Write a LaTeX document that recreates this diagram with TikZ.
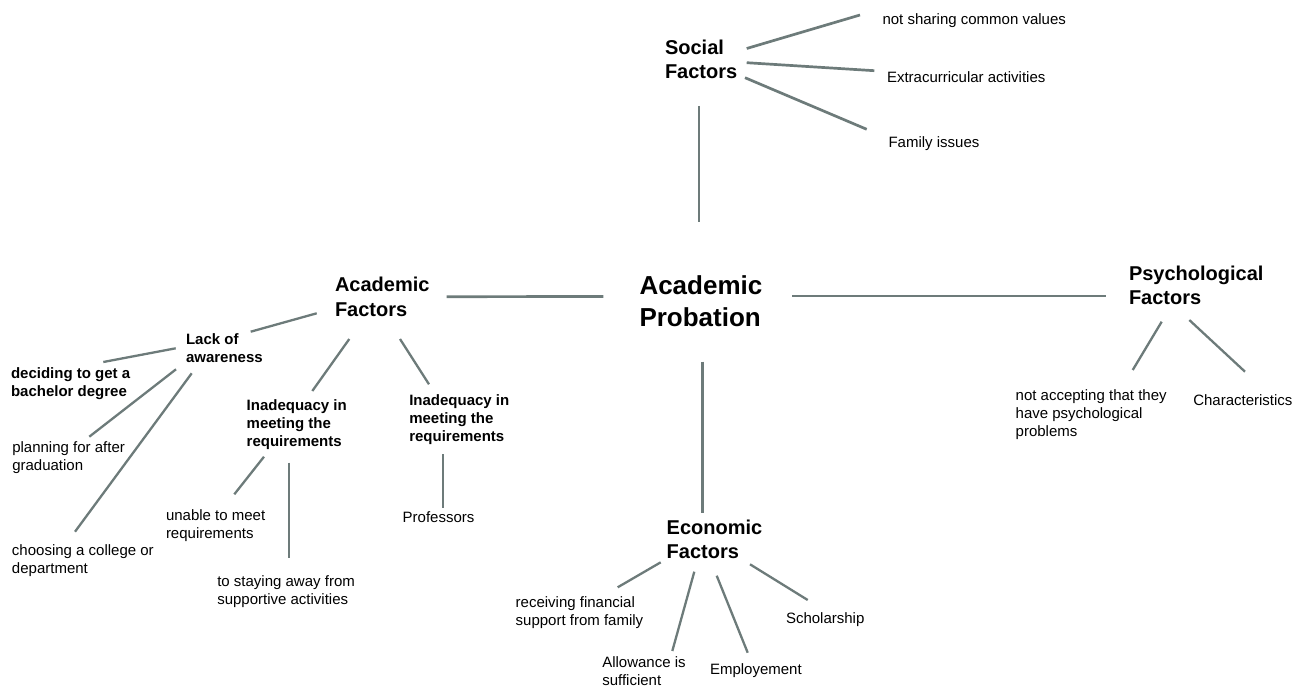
\documentclass[tikz,border=0pt]{standalone}
\usepackage{fontspec}
\setmainfont{Liberation Sans}
\definecolor{linkgray}{HTML}{6D7B7A}
% multi-line label whose reference point is the baseline of its first line
\newcommand\stack[1]{\begin{tabular}[t]{@{}l@{}}#1\end{tabular}}
\begin{document}
\begin{tikzpicture}[x=1pt,y=-1pt,
  every node/.style={inner sep=0pt, outer sep=0pt, anchor=base west},
  link/.style={draw=linkgray, line width=2.7pt},
  twig/.style={draw=linkgray, line width=2.3pt},
  root/.style={font=\bfseries\fontsize{26}{32}\selectfont},
  branch/.style={font=\bfseries\fontsize{20}{24.5}\selectfont},
  subbranch/.style={font=\bfseries\fontsize{15}{18}\selectfont},
  leaf/.style={font=\fontsize{15}{18}\selectfont}]
\useasboundingbox (0,0) rectangle (1305,687);

% ---------- labels ----------
\node[root] (prob) at (639.5,294) {\stack{Academic\\Probation}};

\node[branch] (soc) at (665,54.3) {\stack{Social\\Factors}};
\node[leaf] (soc1) at (882.5,24.5) {not sharing common values};
\node[leaf] (soc2) at (887,82.5) {Extracurricular activities};
\node[leaf] (soc3) at (888.5,147.5) {Family issues};

\node[branch] (aca) at (335,291.7) {\stack{Academic\\Factors}};
\node[subbranch] (lack) at (186,344) {\stack{Lack of\\awareness}};
\node[subbranch] (deci) at (11,378.3) {\stack{deciding to get a\\bachelor degree}};
\node[leaf] (plan) at (12.3,452.7) {\stack{planning for after\\graduation}};
\node[leaf] (choo) at (12,555.7) {\stack{choosing a college or\\department}};
\node[subbranch] (inadA) at (246.7,410) {\stack{Inadequacy in\\meeting the\\requirements}};
\node[subbranch] (inadB) at (409.3,405) {\stack{Inadequacy in\\meeting the\\requirements}};
\node[leaf] (unab) at (166,520) {\stack{unable to meet\\requirements}};
\node[leaf] (stay) at (217.3,586) {\stack{to staying away from\\supportive activities}};
\node[leaf] (prof) at (402.7,522.3) {Professors};

\node[branch] (eco) at (666.7,534) {\stack{Economic\\Factors}};
\node[leaf] (recv) at (515.7,607.3) {\stack{receiving financial\\support from family}};
\node[leaf] (allo) at (602.3,667.3) {\stack{Allowance is\\sufficient}};
\node[leaf] (empl) at (710,674) {Employement};
\node[leaf] (scho) at (786,623.3) {Scholarship};

\node[branch] (psy) at (1129,280) {\stack{Psychological\\Factors}};
\node[leaf] (acc) at (1015.7,400) {\stack{not accepting that they\\have psychological\\problems}};
\node[leaf] (char) at (1193.3,405.7) {Characteristics};

% ---------- connector ends ----------
\coordinate (prob-n) at (699,221.7);
\coordinate (prob-w) at (603.3,296.5);
\coordinate (prob-e) at (792.3,296);
\coordinate (prob-s) at (702.7,361.7);

\coordinate (soc-s)  at (699,106);
\coordinate (soc-e1) at (746.7,48.5);
\coordinate (soc-e2) at (746.7,62.7);
\coordinate (soc-e3) at (745,77.7);
\coordinate (soc1-w) at (860,15);
\coordinate (soc2-w) at (874.3,70.7);
\coordinate (soc3-w) at (866.7,129.3);

\coordinate (aca-e)  at (446.7,296.7);
\coordinate (aca-w)  at (316.7,313.3);
\coordinate (aca-s1) at (349.3,339);
\coordinate (aca-s2) at (400,339);
\coordinate (lack-e) at (250.7,331.7);
\coordinate (lack-w) at (175.7,348.3);
\coordinate (lack-s1) at (176,369.3);
\coordinate (lack-s2) at (191.7,373.3);
\coordinate (deci-e) at (103.3,362);
\coordinate (plan-n) at (89.3,436.7);
\coordinate (choo-n) at (75,531.7);
\coordinate (inadA-n) at (312.3,391);
\coordinate (inadB-n) at (429,384.3);
\coordinate (inadA-s1) at (264,456.7);
\coordinate (inadA-s2) at (288.7,462.7);
\coordinate (inadB-s) at (442.7,454.3);
\coordinate (unab-n) at (234.3,494.3);
\coordinate (stay-n) at (288.7,557.7);
\coordinate (prof-n) at (442.7,508.3);

\coordinate (psy-w)  at (1106,296);
\coordinate (psy-s1) at (1161.7,321.7);
\coordinate (psy-s2) at (1189.3,320);
\coordinate (acc-n)  at (1132.7,370);
\coordinate (char-n) at (1245,371.7);

\coordinate (eco-n)  at (702.7,512.7);
\coordinate (eco-s1) at (660.7,562.3);
\coordinate (eco-s2) at (694.3,571.7);
\coordinate (eco-s3) at (716.7,575.7);
\coordinate (eco-s4) at (750,564.3);
\coordinate (recv-n) at (617.7,587.3);
\coordinate (allo-n) at (672.3,651);
\coordinate (empl-n) at (747.7,652.7);
\coordinate (scho-n) at (807.7,600);

% ---------- connectors ----------
\draw[link] (soc-s) -- (prob-n);
\draw[link] (aca-e) -- (prob-w);
\draw[link] (prob-e) -- (psy-w);
\draw[link] (prob-s) -- (eco-n);

\draw[link] (soc-e1) -- (soc1-w);
\draw[link] (soc-e2) -- (soc2-w);
\draw[link] (soc-e3) -- (soc3-w);

\draw[twig] (aca-w) -- (lack-e);
\draw[twig] (aca-s1) -- (inadA-n);
\draw[twig] (aca-s2) -- (inadB-n);
\draw[twig] (lack-w) -- (deci-e);
\draw[twig] (lack-s1) -- (plan-n);
\draw[twig] (lack-s2) -- (choo-n);
\draw[twig] (inadA-s1) -- (unab-n);
\draw[twig] (inadA-s2) -- (stay-n);
\draw[twig] (inadB-s) -- (prof-n);

\draw[twig] (psy-s1) -- (acc-n);
\draw[twig] (psy-s2) -- (char-n);

\draw[twig] (eco-s1) -- (recv-n);
\draw[twig] (eco-s2) -- (allo-n);
\draw[twig] (eco-s3) -- (empl-n);
\draw[twig] (eco-s4) -- (scho-n);
\end{tikzpicture}
\end{document}
